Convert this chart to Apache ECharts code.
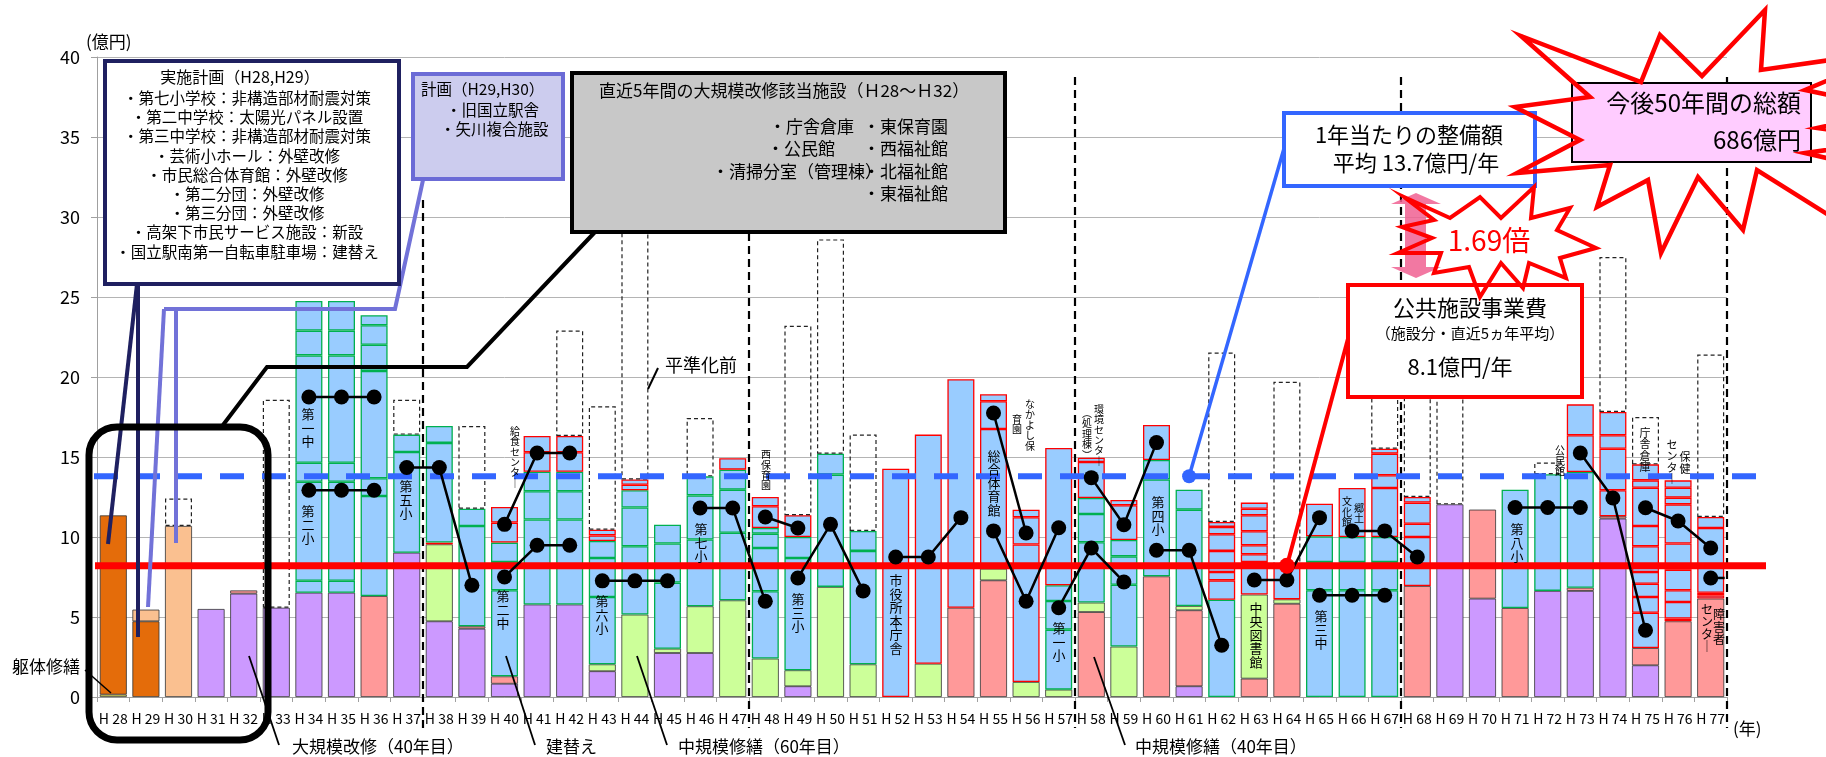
<!DOCTYPE html>
<html><head><meta charset="utf-8">
<script src="https://cdn.jsdelivr.net/npm/echarts@6.0.0/dist/echarts.min.js"></script>
<style>html,body{margin:0;padding:0;background:#fff}#c{width:1826px;height:757px}</style>
</head><body><div id="c"></div>
<script>
// ---------- data (億円) ----------
const categories = ['H28','H29','H30','H31','H32','H33','H34','H35','H36','H37',
  'H38','H39','H40','H41','H42','H43','H44','H45','H46','H47',
  'H48','H49','H50','H51','H52','H53','H54','H55','H56','H57',
  'H58','H59','H60','H61','H62','H63','H64','H65','H66','H67',
  'H68','H69','H70','H71','H72','H73','H74','H75','H76','H77'];
const yTicks = [0,5,10,15,20,25,30,35,40];

const bodyRepair = {H28:0.15};                       // 躯体修繕
const implPlan   = {H28:11.2, H29:4.73};             // 実施計画
const planned    = {H29:0.73, H30:10.69};            // 計画
const majorRenov = {H31:5.5,H32:6.46,H33:5.58,H34:6.52,H35:6.52,H37:9.02,H38:4.73,H39:4.27,H40:0.83,
  H41:5.78,H42:5.78,H43:1.61,H45:2.75,H46:2.75,H49:0.67,H61:0.67,H69:12.04,H70:6.15,H72:6.63,H73:6.63,
  H74:11.15,H75:1.98};                               // 大規模改修（40年目）
const rebuild    = {H32:0.2,H36:6.31,H39:0.15,H40:0.46,H54:5.58,H55:7.29,H58:5.31,H60:7.54,H61:4.75,
  H63:1.15,H64:5.83,H68:6.94,H70:5.56,H71:5.56,H73:0.2,H74:0.15,H75:1.08,H76:4.73,H77:6.15}; // 建替え
const midRepair60 = {H38:4.81,H43:0.43,H44:5.15,H45:0.27,H46:2.92,H47:6.04,H48:2.4,H49:1.0,H50:6.88,
  H51:2.04,H53:2.08,H55:0.73,H56:0.94,H57:0.46,H58:0.59,H59:3.15,H61:0.27,H63:5.25,H64:0.27}; // 中規模修繕（60年目）
// 中規模修繕（40年目）: stacked pieces, S = school facility, O = other facility
const midRepair40 = {
  H34:[['S',0.75],['S',6.18],['S',1.19],['S',6.71],['S',1.55],['S',1.85]],
  H35:[['S',0.75],['S',6.18],['S',1.19],['S',6.71],['S',1.55],['S',1.85]],
  H36:[['S',6.25],['S',1.11],['S',6.71],['S',1.64],['S',1.21],['S',0.63]],
  H37:[['S',6.29],['S',1.09]],
  H38:[['O',0.11],['S',6.23],['S',1.06]],
  H39:[['S',6.27],['S',1.08]],
  H40:[['S',5.38],['S',1.77],['S',1.21],['O',1.25],['O',0.98]],
  H41:[['S',5.31],['S',1.77],['S',1.22],['O',1.22],['O',1.01]],
  H42:[['S',5.31],['S',1.77],['S',1.22],['O',1.22],['O',1.01]],
  H43:[['S',4.21],['S',2.44],['S',1.06],['O',0.35],['O',0.36]],
  H44:[['S',4.27],['S',2.42],['S',1.08],['O',0.35],['O',0.33]],
  H45:[['S',4.13],['S',2.44],['S',1.18]],
  H46:[['S',4.17],['S',2.76],['S',1.19]],
  H47:[['S',4.23],['S',2.69],['S',1.25],['O',0.71]],
  H48:[['S',4.21],['S',2.7],['S',0.9],['S',0.35],['O',1.36],['O',0.58]],
  H49:[['S',7.02],['S',1.31],['O',1.36]],
  H50:[['S',7.02],['S',1.31]],
  H51:[['S',7.09],['S',1.25]],
  H52:[['O',14.27]],
  H53:[['O',14.32]],
  H54:[['O',14.28]],
  H55:[['O',8.73],['O',1.73],['O',0.44]],
  H56:[['O',8.59],['O',1.7],['O',0.48]],
  H57:[['S',3.75],['S',1.79],['S',0.98],['O',8.59]],
  H58:[['S',3.77],['S',1.77],['S',1.0],['O',2.25],['O',0.27]],
  H59:[['S',3.87],['S',1.77],['S',1.02],['O',2.17],['O',0.33]],
  H60:[['S',6.06],['S',1.21],['O',2.19]],
  H61:[['S',6.02],['S',1.25]],
  H62:[['S',6.08],['O',1.21],['O',0.52],['O',1.32],['O',1.04],['O',0.46],['O',0.31]],
  H63:[['O',2.04],['O',0.48],['O',0.56],['O',0.88],['O',1.0],['O',0.41],['O',0.38]],
  H64:[['O',2.2]],
  H65:[['S',6.67],['S',1.77],['S',1.6],['O',2.04]],
  H66:[['S',6.67],['S',1.77],['S',1.56],['O',3.06]],
  H67:[['S',6.67],['S',1.77],['S',1.56],['O',3.06],['O',0.8],['O',1.35],['O',0.31]],
  H68:[['O',3.06],['O',0.83],['O',1.32],['O',0.35]],
  H71:[['S',7.4]],
  H72:[['S',7.29]],
  H73:[['S',7.23],['O',2.3],['O',1.93]],
  H74:[['O',1.62],['O',2.6],['O',0.84],['O',1.45]],
  H75:[['O',2.21],['O',0.98],['O',0.83],['O',0.73],['O',1.61],['O',1.27],['O',2.39],['O',0.46],['O',1.0]],
  H76:[['O',0.17],['O',1.04],['O',0.73],['O',1.29],['O',1.63],['O',2.45],['O',0.42],['O',0.62],['O',0.46]],
  H77:[['O',0.2],['O',0.17],['O',4.04],['O',0.69]]
};
// 平準化前 totals
const beforeLeveling = {H30:12.4,H33:18.58,H37:18.58,H39:16.94,H42:22.9,H43:18.17,H44:29.8,H46:17.44,
  H49:23.2,H50:28.6,H51:16.4,H62:21.53,H64:19.7,H67:21.0,H68:21.5,H69:22.0,H72:14.65,H74:27.5,H75:17.5,H77:21.4};
// facility cost moved between years (black dots)
const dotLinks = [
  [['H34',18.75],['H35',18.75],['H36',18.75]],
  [['H34',12.92],['H35',12.92],['H36',12.92]],
  [['H37',14.34],['H38',14.34],['H39',6.98]],
  [['H40',10.79],['H41',15.25],['H42',15.25]],
  [['H40',7.5],['H41',9.48],['H42',9.48]],
  [['H43',7.26],['H44',7.26],['H45',7.26]],
  [['H46',11.81],['H47',11.81],['H48',5.98]],
  [['H48',11.25],['H49',10.56]],
  [['H49',7.44],['H50',10.79],['H51',6.63]],
  [['H52',8.75],['H53',8.75],['H54',11.21]],
  [['H55',17.75],['H56',10.25]],
  [['H55',10.38],['H56',5.98],['H57',10.58]],
  [['H57',5.58],['H58',9.31],['H59',7.19]],
  [['H58',13.71],['H59',10.77],['H60',15.9]],
  [['H60',9.17],['H61',9.17],['H62',3.23]],
  [['H63',7.31],['H64',7.31],['H65',11.21]],
  [['H65',6.36],['H66',6.36],['H67',6.36]],
  [['H66',10.38],['H67',10.38],['H68',8.75]],
  [['H71',11.84],['H72',11.84],['H73',11.84]],
  [['H73',15.25],['H74',12.44],['H75',4.17]],
  [['H75',11.83],['H76',11.0],['H77',9.31]],
  [['H77',7.44]]
];
const avgPerYear = 13.8;   // 1年当たりの整備額 line
const recentAvg  = 8.2;    // 公共施設事業費 line

// ---------- build ----------
const FF = '"Noto Sans CJK JP","Noto Sans",sans-serif';
const GREEN = '#00B050', RED = '#FF0000';
const toArr = m => categories.map(c => (m[c] != null ? m[c] : '-'));
const chart = echarts.init(document.getElementById('c'));

function barSeries(name, map, color, border) {
  return {name, type:'bar', stack:'t', barWidth:27, z:2, silent:true, data:toArr(map),
    itemStyle:{color, borderColor:border || '#333', borderWidth:0.8}};
}
const series = [
  barSeries('躯体修繕', bodyRepair, '#FFFF66'),
  barSeries('実施計画', implPlan, '#E46C0A'),
  barSeries('計画', planned, '#FAC090'),
  barSeries('大規模改修', majorRenov, '#CC99FF'),
  barSeries('建替え', rebuild, '#FF9999'),
  barSeries('中規模修繕60', midRepair60, '#CCFF99')
];
const maxPieces = Math.max(...Object.values(midRepair40).map(a => a.length));
for (let k = 0; k < maxPieces; k++) {
  series.push({type:'bar', stack:'t', barWidth:27, z:2, silent:true,
    data: categories.map(c => {
      const p = midRepair40[c];
      if (!p || !p[k]) return '-';
      return {value:p[k][1], itemStyle:{color:'#99CCFF', borderColor:p[k][0]==='S'?GREEN:RED, borderWidth:1.3}};
    })});
}
const totals = categories.map(c => {
  let s = 0;
  [bodyRepair, implPlan, planned, majorRenov, rebuild, midRepair60].forEach(m => { if (m[c] != null) s += m[c]; });
  (midRepair40[c] || []).forEach(p => s += p[1]);
  return s;
});
series.push({name:'平準化前', type:'bar', stack:'t', barWidth:27, z:2, silent:true,
  data: categories.map((c, i) => beforeLeveling[c] != null ? +(beforeLeveling[c] - totals[i]).toFixed(2) : '-'),
  itemStyle:{color:'rgba(0,0,0,0)', borderColor:'#222', borderWidth:1.2, borderType:[4,3]}});
dotLinks.forEach(g => series.push({type:'line', data:g, z:10, silent:true, symbol:'circle', symbolSize:15,
  itemStyle:{color:'#000'}, lineStyle:{color:'#000', width:2.5}}));

chart.setOption({
  animation:false,
  grid:{left:97, right:99, top:57, bottom:60, outerBoundsMode:'none'},
  xAxis:{type:'category', data:categories,
    axisLine:{lineStyle:{color:'#A0A0A0', width:1}},
    axisTick:{show:true, length:5, lineStyle:{color:'#A0A0A0'}},
    axisLabel:{interval:0, fontSize:14, color:'#000', margin:15, fontFamily:FF, formatter:v => 'H ' + v.slice(1)}},
  yAxis:{type:'value', min:yTicks[0], max:yTicks[yTicks.length-1], interval:5,
    axisLine:{show:true, lineStyle:{color:'#A0A0A0'}},
    axisTick:{show:true, length:6, lineStyle:{color:'#A0A0A0'}},
    splitLine:{lineStyle:{color:'#B4B4B4'}},
    axisLabel:{fontSize:18, color:'#000', margin:17, fontFamily:FF}},
  series
});

// ---------- annotations ----------
const px = (c, v) => chart.convertToPixel({gridIndex:0}, [c, v]);
const G = [];
const T = (x, y, text, size, opt) => G.push(Object.assign({type:'text', x, y, z:33,
  style:Object.assign({text, fontSize:size, fontFamily:FF, fill:'#000', align:'left', verticalAlign:'middle'}, (opt||{}))}));
const L = (x1, y1, x2, y2, stroke, w, z, dash) => G.push({type:'line', z:z||19, shape:{x1,y1,x2,y2},
  style:{stroke, lineWidth:w, lineDash:dash||null}});
const PL = (pts, stroke, w, z) => G.push({type:'polyline', z:z||19, shape:{points:pts}, style:{stroke, lineWidth:w, fill:null, lineJoin:'miter'}});
const R = (x, y, w, h, fill, stroke, lw, z, r) => G.push({type:'rect', z:z||20, shape:{x, y, width:w, height:h, r:r||0},
  style:{fill, stroke, lineWidth:lw}});

// separators
const step = px('H38',0)[0] - px('H37',0)[0];
[['H37',200],['H47',77],['H57',77],['H67',77],['H77',77]].forEach(([c, top]) => {
  const x = px(c,0)[0] + step/2;
  L(x, top, x, 728, '#000', 2.2, 5, [8,5]);
});
// average lines
const yRed = px('H28', recentAvg)[1], yBlue = px('H28', avgPerYear)[1];
L(95, yRed, 1766, yRed, '#FF0000', 7, 6);
L(94, yBlue, 1756, yBlue, '#3366FF', 6, 6, [24,18]);
// stub from last dot
const last = px('H77', 7.44); L(last[0], last[1], last[0]+14, last[1], '#000', 2.5, 10);

// in-bar vertical labels
const VL = (x, yc, s, size) => G.push({type:'text', x, y:yc, z:8,
  style:{text:s.split('').join('\n'), fontSize:size, fontFamily:FF, fill:'#000', align:'center', verticalAlign:'middle', lineHeight:size*1.04}});
[[308,428,'第一中',13],[308,525,'第二小',13],[406,500,'第五小',13],[503,610,'第二中',13],[602,615,'第六小',13],
 [701,543,'第七小',13],[798,613,'第三小',13],[896,614,'市役所本庁舎',13],[994,483,'総合体育館',13],[1059,642,'第一小',13],
 [1158,516,'第四小',13],[1256,635,'中央図書館',13],[1321,630,'第三中',13],[1517,543,'第八小',13],
 [515,457,'給食センタ｜',10],[766,470,'西保育園',10],[1030,425,'なかよし保',10],[1017,424,'育園',10],
 [1099,435,'環境センタ｜',10],[1087,434,'︵処理棟︶',10],[1359,513,'郷土',10],[1347,512,'文化館',10],
 [1560,461,'公民館',10],[1645,450,'庁舎倉庫',11],[1685,463,'保健',11],[1672,462,'センタ｜',11],
 [1719,627,'障害者',12],[1707,628,'センタ｜',12]].forEach(a => VL(...a));

// 実施計画 box
R(105, 61, 294, 223, '#fff', '#1F2060', 4, 20);
T(240, 77, '実施計画（H28,H29）', 16, {align:'center'});
['・第七小学校：非構造部材耐震対策','・第二中学校：太陽光パネル設置','・第三中学校：非構造部材耐震対策',
 '・芸術小ホール：外壁改修','・市民総合体育館：外壁改修','・第二分団：外壁改修','・第三分団：外壁改修',
 '・高架下市民サービス施設：新設','・国立駅南第一自転車駐車場：建替え'].forEach((s, i) =>
  T(247, [98,117,136,156,175,194,213,232,252][i], s, 15.5, {align:'center'}));
L(137, 284, 108, 544, '#1F2060', 4, 19);
L(138, 284, 138, 637, '#1F2060', 4, 19);

// 計画 box
R(413, 74, 150, 105, '#CCCCEE', '#6B6BD6', 4, 20);
T(421, 89, '計画（H29,H30）', 15.5);
T(446, 110, '・旧国立駅舎', 15.5);
T(440, 129, '・矢川複合施設', 15.5);
PL([[423,180],[395,309],[164,309]], '#7272D8', 4, 19);
L(164, 309, 148, 607, '#7272D8', 4, 19);
L(176, 309, 176, 543, '#7272D8', 4, 19);

// gray box
R(572, 73, 433, 159, '#C8C8C8', '#000', 4, 20);
T(599, 91, '直近5年間の大規模改修該当施設（Ｈ28～Ｈ32）', 17);
T(769, 127, '・庁舎倉庫', 17); T(863, 127, '・東保育園', 17);
T(767, 149, '・公民館', 17);   T(863, 149, '・西福祉館', 17);
T(712, 172, '・清掃分室（管理棟）', 17); T(863, 172, '・北福祉館', 17);
T(863, 194, '・東福祉館', 17);
PL([[595,232],[467,367],[267,367],[223,425]], '#000', 4, 19);
R(89, 427, 179, 313, null, '#000', 7, 19, 28);

// labels with leaders
T(12, 667, '躯体修繕', 17); L(85, 670, 111, 693, '#000', 1.5, 19);
T(292, 747, '大規模改修（40年目）', 17); L(279, 745, 249, 656, '#000', 1.8, 19);
T(546, 747, '建替え', 17); L(535, 745, 506, 656, '#000', 1.8, 19);
T(678, 747, '中規模修繕（60年目）', 17); L(667, 745, 637, 656, '#000', 1.8, 19);
T(1135, 747, '中規模修繕（40年目）', 17); L(1125, 745, 1094, 657, '#000', 1.8, 19);
T(665, 365, '平準化前', 18); L(658, 368, 648, 389, '#000', 2, 19);
T(86, 42, '(億円)', 17);
T(1733, 729, '(年)', 17);

// blue box
const bDot = px('H61', avgPerYear);
L(1285, 145, bDot[0], bDot[1], '#3366FF', 3.5, 19);
G.push({type:'circle', z:19, shape:{cx:bDot[0], cy:bDot[1], r:7}, style:{fill:'#3366FF'}});
R(1284, 113, 251, 73, '#fff', '#3366FF', 4, 31);
T(1409, 135, '1年当たりの整備額', 22, {align:'center'});
T(1416, 163, '平均 13.7億円/年', 22, {align:'center'});

// red box
const rDot = px('H64', recentAvg);
L(1349, 335, rDot[0], rDot[1], '#FF0000', 4, 19);
G.push({type:'circle', z:19, shape:{cx:rDot[0], cy:rDot[1], r:8}, style:{fill:'#FF0000'}});
R(1348, 285, 234, 112, '#fff', '#FF0000', 4, 31);
T(1470, 308, '公共施設事業費', 22, {align:'center'});
T(1470, 333, '（施設分・直近5ヵ年平均）', 15, {align:'center'});
T(1460, 367, '8.1億円/年', 22, {align:'center'});

// 1.69 star + arrow
const star1 = [[1404,197],[1450,218],[1480,197],[1501,218],[1534,187],[1531,218],[1570,208],[1557,230],
  [1596,248],[1560,258],[1566,278],[1529,263],[1523,288],[1501,263],[1480,297],[1469,267],[1434,273],
  [1441,253],[1398,253],[1432,238],[1402,227],[1434,220]];
G.push({type:'polygon', z:30, shape:{points:star1}, style:{fill:'#fff', stroke:null}});
G.push({type:'polygon', z:31, shape:{points:[[1416,193],[1441,204],[1426,204],[1426,267],[1441,267],[1416,278],
  [1391,267],[1405,267],[1405,204],[1391,204]]}, style:{fill:'rgba(240,96,146,0.85)'}});
G.push({type:'polygon', z:32, shape:{points:star1}, style:{fill:null, stroke:'#FF0000', lineWidth:4, lineJoin:'miter'}});
T(1489, 240, '1.69倍', 28, {align:'center', fill:'#FF0000'});

// big star
R(1572, 83, 239, 79, '#FFCCFF', '#000', 2, 31);
const star2 = [[1521,36],[1641,82],[1660,35],[1702,76],[1765,10],[1761,70],[1900,50],[1805,90],[1900,110],
  [1817,128],[1900,140],[1805,153],[1900,175],[1900,260],[1757,170],[1743,230],[1698,177],[1661,253],
  [1648,180],[1597,207],[1610,165],[1517,173],[1580,140],[1515,107],[1590,97]];
G.push({type:'polygon', z:32, shape:{points:star2}, style:{fill:null, stroke:'#FF0000', lineWidth:4.5, lineJoin:'miter'}});
T(1801, 103, '今後50年間の総額', 24, {align:'right'});
T(1801, 140, '686億円', 24, {align:'right'});

chart.setOption({graphic:{elements:G}});
</script></body></html>
